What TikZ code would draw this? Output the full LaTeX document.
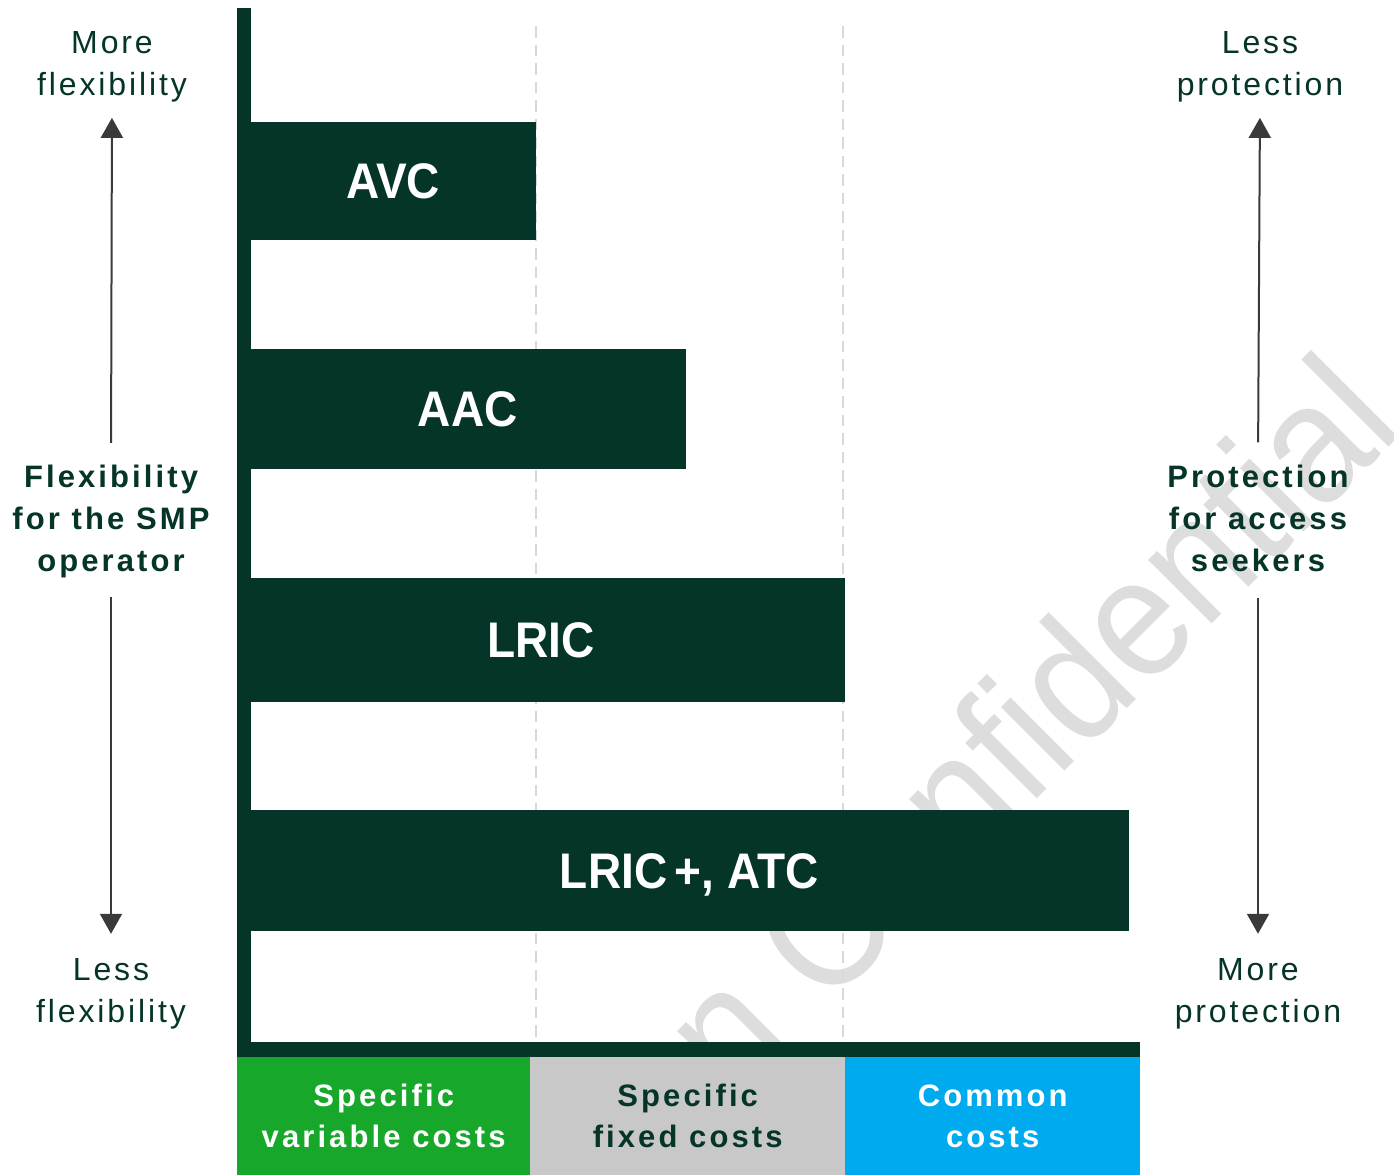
\documentclass[tikz,border=0pt]{standalone}
\usepackage{fontspec}
\usepackage{graphicx}
\setmainfont{Liberation Sans}
\newfontfamily\lblfont[LetterSpace=9]{Liberation Sans}
\newfontfamily\boldsp[LetterSpace=10]{Liberation Sans}
\usetikzlibrary{arrows.meta}
\definecolor{dk}{HTML}{053429}
\definecolor{gr}{HTML}{17A82B}
\definecolor{lg}{HTML}{C8C8C8}
\definecolor{bl}{HTML}{00AAEE}
\definecolor{dashc}{HTML}{D3DAD7}
\definecolor{wm}{HTML}{DDDDDD}
\definecolor{arr}{HTML}{3A3A3A}
\begin{document}
\begin{tikzpicture}[x=1pt,y=-1pt,
  bar/.style={fill=dk, draw=none, inner sep=0pt, anchor=north west, text=white,
    font=\fontsize{50}{50}\selectfont\bfseries, text depth=0pt},
  side/.style={text=dk, align=center, inner sep=0pt, anchor=base,
    font=\lblfont\fontsize{32}{42}\selectfont},
  sidebold/.style={text=dk, align=center, inner sep=0pt, anchor=base,
    font=\boldsp\bfseries\fontsize{31}{42}\selectfont},
  costbox/.style={draw=none, inner sep=0pt, anchor=north west, minimum height=118pt,
    align=center, font=\boldsp\bfseries\fontsize{31}{41}\selectfont},
  guide/.style={draw=dashc, line width=2.7pt, dash pattern=on 11.5pt off 7pt},
  axisarrow/.style={draw=arr, line width=2pt, -{Triangle[width=22pt,length=20pt]}},
]
\useasboundingbox (0,0) rectangle (1394,1175);
% watermark
\begin{scope}
\clip (0,0) rectangle (1394,1175);
\node[text=wm, font=\fontsize{170}{170}\selectfont, rotate=45, anchor=base, inner sep=0pt]
  (wmark) at (1070,766) {\scalebox{0.915}[1]{n Confidential}};
\end{scope}
% dashed guides
\coordinate (g1t) at (536,26); \coordinate (g1b) at (536,1042);
\coordinate (g2t) at (843,26); \coordinate (g2b) at (843,1042);
\draw[guide] (g1t) -- (g1b);
\draw[guide] (g2t) -- (g2b);
% axes
\fill[dk] (237,8) rectangle (251,1057);
\fill[dk] (237,1042) rectangle (1140,1057);
% bars
\node[bar, minimum width=286pt, minimum height=118pt] (avc) at (250,122) {\scalebox{0.92}[1]{AVC}};
\node[bar, minimum width=437pt, minimum height=120pt] (aac) at (249,349) {\scalebox{0.92}[1]{AAC}};
\node[bar, minimum width=608pt, minimum height=124pt] (lric) at (237,578) {\scalebox{0.92}[1]{LRIC}};
\node[bar, minimum width=880pt, minimum height=121pt] (lricp) at (249,810) {\scalebox{0.92}[1]{LRIC\,+, ATC}};
% cost boxes
\node[costbox, fill=gr, text=white, minimum width=293pt] (svc) at (237,1057) {Specific\\variable costs};
\node[costbox, fill=lg, text=dk, minimum width=315pt] (sfc) at (530,1057) {Specific\\fixed costs};
\node[costbox, fill=bl, text=white, minimum width=295pt] (cc) at (845,1057) {Common\\costs};
% side labels (base = baseline of last line)
\node[side] (moreflex) at (112,95) {More\\flexibility};
\node[sidebold] (flexsmp) at (111,571) {Flexibility\\for the SMP\\operator};
\node[side] (lessflex) at (111,1022) {Less\\flexibility};
\node[side] (lessprot) at (1260,95) {Less\\protection};
\node[sidebold] (protacc) at (1258,571) {Protection\\for access\\seekers};
\node[side] (moreprot) at (1258,1022) {More\\protection};
% arrows
\draw[axisarrow, shorten <=21.5pt, shorten >=16pt] (flexsmp.north) -- (moreflex.south);
\draw[axisarrow, shorten <=19.5pt, shorten >=24pt] (flexsmp.south) -- (lessflex.north);
\draw[axisarrow, shorten <=22pt, shorten >=16pt] (protacc.north) -- (lessprot.south);
\draw[axisarrow, shorten <=26pt, shorten >=24pt] (protacc.south) -- (moreprot.north);
\end{tikzpicture}
\end{document}
